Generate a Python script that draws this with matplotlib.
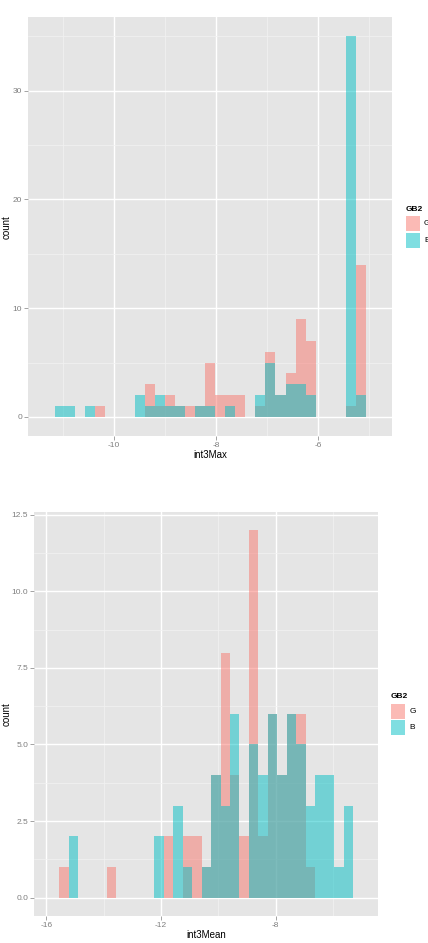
import numpy as np
import matplotlib
matplotlib.use("Agg")
import matplotlib.pyplot as plt
from matplotlib.patches import Rectangle
from matplotlib.ticker import MultipleLocator, FormatStrFormatter

groups = ["G", "B"]
colors = ["#F8766D", "#00BFC4"]

# int3Max histogram: first bin edge, bin width, counts per bin
max_start = -11.156
max_binwidth = 0.1965
max_G = [0, 0, 0, 0, 1, 0, 0, 0, 0, 3, 1, 2, 1, 1, 1, 5, 2, 2, 2, 0, 1, 6, 2, 4, 9, 7, 0, 0, 0, 1, 14]
max_B = [1, 1, 0, 1, 0, 0, 0, 0, 2, 1, 2, 1, 1, 0, 1, 1, 0, 1, 0, 0, 2, 5, 2, 3, 3, 2, 0, 0, 0, 35, 2]

# int3Mean histogram
mean_start = -15.547
mean_binwidth = 0.3307
mean_G = [1, 0, 0, 0, 0, 1, 0, 0, 0, 0, 0, 2, 0, 2, 2, 1, 4, 8, 4, 2, 12, 2, 6, 4, 6, 6, 1, 0, 0, 0, 0]
mean_B = [0, 2, 0, 0, 0, 0, 0, 0, 0, 0, 2, 0, 3, 1, 0, 1, 4, 3, 6, 0, 5, 4, 6, 4, 6, 5, 3, 4, 4, 1, 3]

W, H = 428, 943
plt.rcParams["font.family"] = ["Liberation Sans", "DejaVu Sans"]
GREY = "#7F7F7F"


def box(left, top, right, bottom):
    # pixel box -> figure fraction rect
    return [left / W, 1 - bottom / H, (right - left) / W, (bottom - top) / H]


def hist_panel(ax, start, bw, series, xmajor, ymajor, yfmt):
    n = len(series[0])
    edges = start + bw * np.arange(n + 1)
    for counts, c in zip(series, colors):
        ax.stairs(counts, edges, fill=True, color=c, alpha=0.5, lw=0)
    # ggplot-like range: one empty pad bin each side, then 5% expansion
    span = (n + 2) * bw
    ax.set_xlim(edges[0] - bw - 0.05 * span, edges[-1] + bw + 0.05 * span)
    top = max(max(s) for s in series)
    ax.set_ylim(-0.05 * top, 1.05 * top)

    ax.set_facecolor("#E5E5E5")
    ax.set_axisbelow(True)
    ax.xaxis.set_major_locator(MultipleLocator(xmajor))
    ax.xaxis.set_minor_locator(MultipleLocator(xmajor / 2))
    ax.yaxis.set_major_locator(MultipleLocator(ymajor))
    ax.yaxis.set_minor_locator(MultipleLocator(ymajor / 2))
    ax.yaxis.set_major_formatter(FormatStrFormatter(yfmt))
    ax.xaxis.set_major_formatter(FormatStrFormatter("%d"))
    ax.grid(which="major", color="white", lw=1.0)
    ax.grid(which="minor", color="#F2F2F2", lw=0.5)
    for s in ax.spines.values():
        s.set_visible(False)
    ax.tick_params(which="major", length=3, width=0.5, color=GREY,
                   labelcolor=GREY, labelsize=6, pad=1.5)
    ax.tick_params(which="minor", length=0)


def legend(fig, x, y):
    fig.text(x / W, 1 - y / H, "GB2", fontsize=6, fontweight="bold",
             ha="left", va="center")
    for i, (g, c) in enumerate(zip(groups, colors)):
        ky = y + 7 + i * 16.5
        fig.patches.append(Rectangle((x / W, 1 - (ky + 15) / H), 14.5 / W, 15 / H,
                                     transform=fig.transFigure, facecolor=c,
                                     alpha=0.5, lw=0))
        fig.text((x + 18.5) / W, 1 - (ky + 7.5) / H, g, fontsize=6,
                 ha="left", va="center")


fig = plt.figure(figsize=(W / 100, H / 100), dpi=100)

ax1 = fig.add_axes(box(28.3, 17.3, 392.3, 436))
hist_panel(ax1, max_start, max_binwidth, [max_G, max_B], 2, 10, "%d")
ax1.set_xlabel("int3Max", fontsize=7)
ax1.xaxis.set_label_coords(0.5, -0.045)
ax1.xaxis.label.set_va("center")
ax1.set_ylabel("count", fontsize=7, va="center")
ax1.yaxis.set_label_coords(-0.0605, 0.5)
legend(fig, 405.5, 209.3)

ax2 = fig.add_axes(box(34.3, 511.7, 378.3, 916))
hist_panel(ax2, mean_start, mean_binwidth, [mean_G, mean_B], 4, 2.5, "%.1f")
ax2.set_xlabel("int3Mean", fontsize=7)
ax2.xaxis.set_label_coords(0.5, -0.047)
ax2.xaxis.label.set_va("center")
ax2.set_ylabel("count", fontsize=7, va="center")
ax2.yaxis.set_label_coords(-0.081, 0.5)
legend(fig, 390.7, 696.7)

fig.savefig("out.png", dpi=100)
